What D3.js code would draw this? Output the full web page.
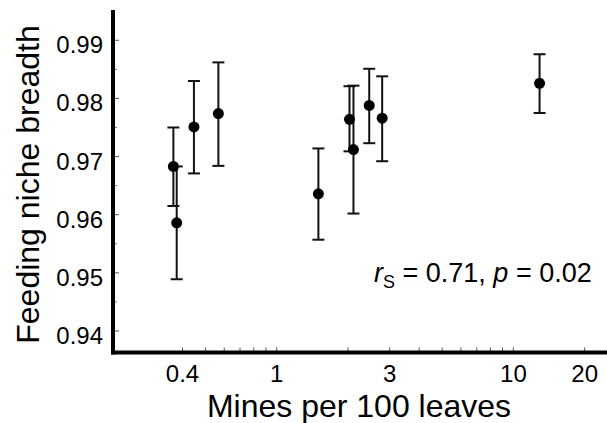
<!DOCTYPE html>
<html>
<head>
<meta charset="utf-8">
<script src="https://cdn.jsdelivr.net/npm/d3@7"></script>
<style>
  body { margin: 0; background: #fff; }
  svg { display: block; font-family: "Liberation Sans", Arial, sans-serif; }
</style>
</head>
<body>
<svg width="607" height="423"></svg>
<script>
// mines per 100 leaves vs feeding niche breadth (mean with error bars)
var mines   = [0.366, 0.378, 0.447, 0.567, 1.50, 2.03, 2.11, 2.46, 2.79, 12.9];
var breadth = [0.9683, 0.9586, 0.9751, 0.9774, 0.9636, 0.9764, 0.9712, 0.9788, 0.9766, 0.9826];
var upper   = [0.9750, 0.9683, 0.9830, 0.9862, 0.9714, 0.9821, 0.9822, 0.9851, 0.9838, 0.9876];
var lower   = [0.9615, 0.9489, 0.9671, 0.9684, 0.9557, 0.9709, 0.9602, 0.9723, 0.9692, 0.9775];

var xTickLabels = [0.4, 1, 3, 10, 20];
var xTicks = [0.4, 0.5, 0.6, 0.7, 0.8, 0.9, 1, 2, 3, 4, 5, 6, 7, 8, 9, 10, 20];
var yTickLabels = [0.94, 0.95, 0.96, 0.97, 0.98, 0.99];
var yMinorTicks = [0.945, 0.955, 0.965, 0.975, 0.985];

var svg = d3.select('svg');

var x = d3.scaleLog().domain([0.2044, 24.86]).range([113.5, 607]);
var y = d3.scaleLinear().domain([0.9363, 0.99521]).range([352.5, 10]);

var points = mines.map(function(m, i) {
  return { x: m, y: breadth[i], hi: upper[i], lo: lower[i] };
});

// x axis ticks (inside, pointing up)
svg.selectAll('line.xtick')
    .data(xTicks)
  .enter().append('line')
    .attr('class', 'xtick')
    .attr('x1', function(d) { return x(d); })
    .attr('x2', function(d) { return x(d); })
    .attr('y1', 352)
    .attr('y2', 347.5)
    .attr('stroke', '#555')
    .attr('stroke-width', 1);

svg.selectAll('text.xlab')
    .data(xTickLabels)
  .enter().append('text')
    .attr('class', 'xlab')
    .attr('x', function(d) { return x(d); })
    .attr('y', 381.7)
    .attr('text-anchor', 'middle')
    .attr('font-size', 24)
    .text(function(d) { return d; });

// y axis ticks (inside, pointing right)
svg.selectAll('line.ytick')
    .data(yTickLabels)
  .enter().append('line')
    .attr('class', 'ytick')
    .attr('x1', 113)
    .attr('x2', 119)
    .attr('y1', function(d) { return y(d); })
    .attr('y2', function(d) { return y(d); })
    .attr('stroke', '#555')
    .attr('stroke-width', 1);

svg.selectAll('line.yminor')
    .data(yMinorTicks)
  .enter().append('line')
    .attr('class', 'yminor')
    .attr('x1', 113)
    .attr('x2', 117)
    .attr('y1', function(d) { return y(d); })
    .attr('y2', function(d) { return y(d); })
    .attr('stroke', '#777')
    .attr('stroke-width', 1);

svg.selectAll('text.ylab')
    .data(yTickLabels)
  .enter().append('text')
    .attr('class', 'ylab')
    .attr('x', 103)
    .attr('y', function(d) { return y(d) + 13; })
    .attr('text-anchor', 'end')
    .attr('font-size', 24)
    .text(function(d) { return d3.format('.2f')(d); });

// axis lines
svg.append('line')
    .attr('x1', 113).attr('x2', 113)
    .attr('y1', y.range()[1]).attr('y2', 354.5)
    .attr('stroke', '#000').attr('stroke-width', 4);
svg.append('line')
    .attr('x1', 111).attr('x2', x.range()[1])
    .attr('y1', 352.5).attr('y2', 352.5)
    .attr('stroke', '#000').attr('stroke-width', 4);

// error bars
var cap = 6;
var bars = svg.selectAll('g.bar')
    .data(points)
  .enter().append('g')
    .attr('class', 'bar')
    .attr('stroke', '#111')
    .attr('stroke-width', 2);

bars.append('line')
    .attr('x1', function(d) { return x(d.x); })
    .attr('x2', function(d) { return x(d.x); })
    .attr('y1', function(d) { return y(d.hi); })
    .attr('y2', function(d) { return y(d.lo); });
bars.append('line')
    .attr('x1', function(d) { return x(d.x) - cap; })
    .attr('x2', function(d) { return x(d.x) + cap; })
    .attr('y1', function(d) { return y(d.hi); })
    .attr('y2', function(d) { return y(d.hi); });
bars.append('line')
    .attr('x1', function(d) { return x(d.x) - cap; })
    .attr('x2', function(d) { return x(d.x) + cap; })
    .attr('y1', function(d) { return y(d.lo); })
    .attr('y2', function(d) { return y(d.lo); });

svg.selectAll('circle.dot')
    .data(points)
  .enter().append('circle')
    .attr('class', 'dot')
    .attr('cx', function(d) { return x(d.x); })
    .attr('cy', function(d) { return y(d.y); })
    .attr('r', 5.5)
    .attr('fill', '#000');

// axis titles
svg.append('text')
    .attr('x', 359)
    .attr('y', 416.7)
    .attr('text-anchor', 'middle')
    .attr('font-size', 32)
    .text('Mines per 100 leaves');

svg.append('text')
    .attr('transform', 'translate(39,184.5) rotate(-90)')
    .attr('text-anchor', 'middle')
    .attr('font-size', 32)
    .text('Feeding niche breadth');

// correlation annotation
var note = svg.append('text')
    .attr('x', 374)
    .attr('y', 281.7)
    .attr('font-size', 27);
note.append('tspan').attr('font-style', 'italic').text('r');
note.append('tspan').attr('font-size', 18).attr('dy', 6).text('S');
note.append('tspan').attr('dy', -6).text(' = 0.71, ');
note.append('tspan').attr('font-style', 'italic').text('p');
note.append('tspan').text(' = 0.02');
</script>
</body>
</html>
